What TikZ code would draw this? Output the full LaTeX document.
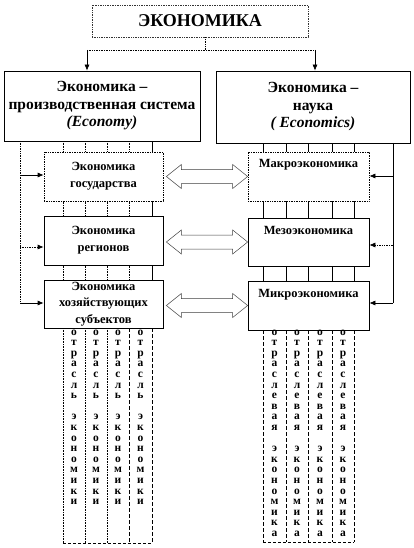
\documentclass[tikz,border=0pt]{standalone}
\usepackage{fontspec}
\setmainfont{Liberation Serif}
\usetikzlibrary{arrows.meta,calc}
\newcommand\dblarrow[2]{\draw[hollow] (#1) -- ++(15,-12) -- ++(0,5) -- ($(#2)+(-15,-7)$) -- ++(0,-5) -- (#2) -- ++(-15,12) -- ++(0,-5) -- ($(#1)+(15,7)$) -- ++(0,5) -- cycle;}
\begin{document}
\begin{tikzpicture}[x=1pt,y=-1pt,
  box/.style={draw, fill=white, line width=0.7pt, inner sep=0pt, align=center},
  bigtxt/.style={font=\fontsize{15.5}{17.5}\selectfont\bfseries},
  smalltxt/.style={font=\fontsize{12.5}{17}\selectfont\bfseries},
  letters/.style={inner sep=0pt, align=center, font=\fontsize{11.5}{10.6}\selectfont\bfseries},
  conn/.style={line width=0.7pt},
  arr/.style={conn, -{Latex[length=6pt,width=5pt]}},
  col/.style={line width=0.6pt},
  hollow/.style={draw=black!75, line width=0.5pt, fill=white}]
\useasboundingbox (0,0) rectangle (413,548);
\fill[white] (0,0) rectangle (413,548);

% column lines (behind boxes)
\foreach \x in {63,85,107,129} {
  \draw[col, densely dotted] (\x,141) -- (\x,328);
}
\draw[col] (152,141) -- (152,328);
\foreach \x in {63,85,107} {
  \draw[col, densely dotted] (\x,328) -- (\x,543);
}
\foreach \x in {129,152} {
  \draw[col, dash pattern=on 4pt off 2pt] (\x,328) -- (\x,543);
}
\draw[col, dash pattern=on 3pt off 2pt] (63,543) -- (152,543);
\foreach \x in {263,286,308,332,354} {
  \draw[col] (\x,143) -- (\x,330);
  \draw[col, dash pattern=on 4pt off 2pt] (\x,330) -- (\x,542);
}
\draw[col, dash pattern=on 3pt off 2pt] (263,542) -- (354,542);

% main boxes
\node[box, densely dotted, draw=black!80, minimum width=216, minimum height=32,
  font=\fontsize{18}{20}\selectfont\bfseries] (eco) at (200,21) {ЭКОНОМИКА};
\node[box, bigtxt, minimum width=196, minimum height=70] (L) at (102,106)
  {Экономика –\\производственная система\\\textit{(Economy)}};
\node[box, bigtxt, minimum width=194, minimum height=72] (R) at (313,107)
  {Экономика –\\наука\\\textit{( Economics)}};

% left small boxes
\node[box, smalltxt, densely dotted, minimum width=119, minimum height=49] (g) at (103.5,176.5) {Экономика\\государства};
\node[box, smalltxt, minimum width=119, minimum height=49] (r) at (103.5,240.5) {Экономика\\регионов};
\node[box, font=\fontsize{12.5}{16.5}\selectfont\bfseries, minimum width=119, minimum height=48] (h) at (103.5,304) {Экономика\\хозяйствующих\\субъектов};

% right small boxes
\node[box, densely dotted, minimum width=121, minimum height=49] (ma) at (308.5,176.5) {};
\node[smalltxt, inner sep=0pt] (mat) at (308.5,165) {Макроэкономика};
\node[box, minimum width=121, minimum height=48] (me) at (308.5,242) {};
\node[smalltxt, inner sep=0pt] (met) at (308.5,230.5) {Мезоэкономика};
\node[box, minimum width=121, minimum height=49] (mi) at (308.5,305.5) {};
\node[smalltxt, inner sep=0pt] (mit) at (308.5,295) {Микроэкономика};

% top connectors
\coordinate (j) at (205,50);
\coordinate (jl) at (87,50);
\coordinate (jr) at (315,50);
\draw[conn, densely dotted] (eco.south -| j) -- (j);
\draw[conn, densely dotted] (jl) -- (jr);
\draw[arr] (jl) -- (jl |- L.north);
\draw[arr] (jr) -- (jr |- R.north);

% left bus
\coordinate (lb0) at (20,141);
\coordinate (lb1) at (20,175);
\coordinate (lb2) at (20,247);
\coordinate (lb3) at (20,303);
\draw[conn, densely dotted] (lb0) -- (lb3);
\draw[arr] (lb1) -- (lb1 -| g.west);
\draw[arr, densely dotted] (lb2) -- (lb2 -| r.west);
\draw[arr] (lb3) -- (lb3 -| h.west);

% right bus
\coordinate (rb0) at (393,143);
\coordinate (rb1) at (393,176);
\coordinate (rb2) at (393,245);
\coordinate (rb3) at (393,303);
\draw[conn] (rb0) -- (rb3);
\draw[arr] (rb1) -- (rb1 -| ma.east);
\draw[arr, densely dotted] (rb2) -- (rb2 -| me.east);
\draw[arr] (rb3) -- (rb3 -| mi.east);

% hollow double arrows
\coordinate (a1l) at ($(g.east)+(3,0)$);
\coordinate (a1r) at (g.east -| ma.west);
\coordinate (a2r) at (me.west);
\coordinate (a2l) at ($(me.west -| r.east)+(3,0)$);
\coordinate (a3r) at (mi.west);
\coordinate (a3l) at ($(mi.west -| h.east)+(3,0)$);
\dblarrow{a1l}{a1r}
\dblarrow{a2l}{a2r}
\dblarrow{a3l}{a3r}

% vertical letters
\foreach \x [count=\i] in {74,96,118,140.5} {
  \node[letters, anchor=north] (lc\i) at (\x,329.5)
    {о\\т\\р\\а\\с\\л\\ь\\\mbox{}\\э\\к\\о\\н\\о\\м\\и\\к\\и};
}
\foreach \x [count=\i] in {274.5,297,320,343} {
  \node[letters, anchor=north] (rc\i) at (\x,329.5)
    {о\\т\\р\\а\\с\\л\\е\\в\\а\\я\\\mbox{}\\э\\к\\о\\н\\о\\м\\и\\к\\а};
}
\end{tikzpicture}
\end{document}
